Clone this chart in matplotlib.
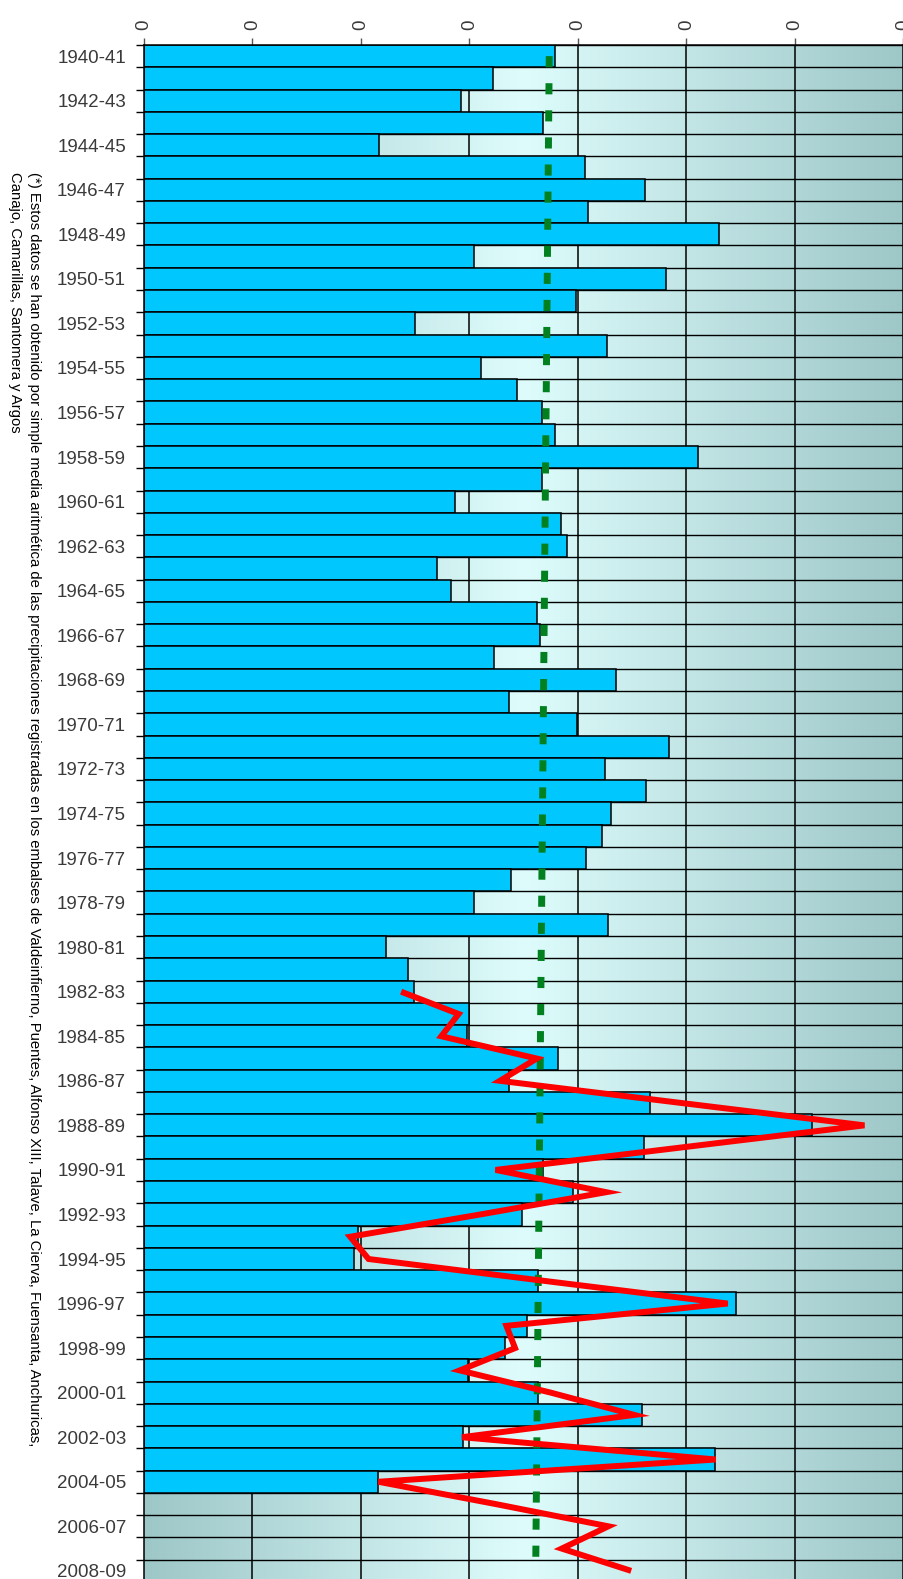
import numpy as np
import matplotlib
matplotlib.use("Agg")
import matplotlib.pyplot as plt

plt.rcParams['font.family'] = ['Liberation Sans', 'DejaVu Sans']

# ---------------- data ----------------
years = ['1940-41', '1941-42', '1942-43', '1943-44', '1944-45', '1945-46', '1946-47', '1947-48',
         '1948-49', '1949-50', '1950-51', '1951-52', '1952-53', '1953-54', '1954-55', '1955-56',
         '1956-57', '1957-58', '1958-59', '1959-60', '1960-61', '1961-62', '1962-63', '1963-64',
         '1964-65', '1965-66', '1966-67', '1967-68', '1968-69', '1969-70', '1970-71', '1971-72',
         '1972-73', '1973-74', '1974-75', '1975-76', '1976-77', '1977-78', '1978-79', '1979-80',
         '1980-81', '1981-82', '1982-83', '1983-84', '1984-85', '1985-86', '1986-87', '1987-88',
         '1988-89', '1989-90', '1990-91', '1991-92', '1992-93', '1993-94', '1994-95', '1995-96',
         '1996-97', '1997-98', '1998-99', '1999-00', '2000-01', '2001-02', '2002-03', '2003-04',
         '2004-05', '2005-06', '2006-07', '2007-08', '2008-09']

# bar series: 1940-41 .. 2004-05
bar_values = [379, 322, 292, 368, 217, 406, 462, 409, 530, 304,
              481, 398, 250, 427, 311, 344, 367, 379, 511, 367,
              287, 384, 390, 270, 283, 362, 365, 323, 435, 336,
              399, 484, 425, 463, 430, 422, 407, 338, 304, 428,
              223, 243, 249, 300, 298, 382, 336, 466, 616, 461,
              368, 395, 348, 197, 194, 363, 546, 353, 333, 299,
              363, 459, 294, 526, 216]

# red line series: 1982-83 .. 2008-09
line_years = years[42:]
line_values = [237, 290, 274, 362, 328, 496, 664, 494, 324, 426,
               310, 190, 207, 372, 538, 334, 342, 291, 375, 452,
               293, 527, 216, 324, 428, 385, 449]

# green dashed trend line (end points)
trend_years = ['1940-41', '2008-09']
trend_values = [373.5, 361.0]

x_ticks = [0, 100, 200, 300, 400, 500, 600, 700]
x_tick_labels = ['0'] * len(x_ticks)

note_line1 = ("(*) Estos datos se han obtenido por simple media aritmética de las precipitaciones "
              "registradas en los embalses de Valdeinfierno, Puentes, Alfonso XIII, Talave, "
              "La Cierva, Fuensanta, Anchuricas,")
note_line2 = "Canajo, Camarillas, Santomera y Argos"

# ---------------- figure ----------------
W, H = 904, 1579
fig = plt.figure(figsize=(W / 100, H / 100), dpi=100)
fig.patch.set_facecolor('white')

left_px, right_px, top_px, bottom_px = 144, 903.5, 45, 1582
ax = fig.add_axes([left_px / W, (H - bottom_px) / H,
                   (right_px - left_px) / W, (bottom_px - top_px) / H])

n = len(years)
ypos = {y: i for i, y in enumerate(years)}
ylim = (n - 0.5, -0.5)
xlim = (0, 700)

# gradient background (dark edges, light centre)
edge = np.array([158, 199, 200]) / 255.0
centre = np.array([222, 252, 252]) / 255.0
xs = np.linspace(0, 1, 400)
t = np.abs(xs - 0.5) / 0.5
grad = centre[None, :] * (1 - t[:, None]) + edge[None, :] * t[:, None]
ax.imshow(grad[None, :, :], extent=(xlim[0], xlim[1], ylim[0], ylim[1]),
          aspect='auto', zorder=0, interpolation='bilinear')

# vertical grid lines
for xv in x_ticks[1:-1]:
    ax.axvline(xv, color='black', lw=1.1, zorder=1)
# horizontal row lines
for i in range(n + 1):
    ax.axhline(i - 0.5, color='black', lw=1.0, zorder=1)

# bars
bar_pos = [ypos[y] for y in years[:len(bar_values)]]
ax.barh(bar_pos, bar_values, height=1.0, color='#00C8FF', edgecolor='black',
        linewidth=1.1, zorder=2)

# green trend line
ax.plot(trend_values, [ypos[y] for y in trend_years], color='#00801E', lw=5.0,
        dashes=(1.6, 2.3), dash_capstyle='butt', zorder=3)

# red line
ax.plot(line_values, [ypos[y] for y in line_years], color='#FF0000', lw=4.3,
        solid_joinstyle='miter', solid_capstyle='butt', zorder=4)

ax.set_xlim(*xlim)
ax.set_ylim(*ylim)

# x axis on top, all labels "0"
ax.xaxis.tick_top()
ax.set_xticks(x_ticks)
ax.set_xticklabels(x_tick_labels, rotation=90, fontsize=13.5, color='#3a3a3a')
ax.tick_params(axis='x', which='major', length=5, width=1, color='#555555', pad=6)

# y axis: tick marks at row boundaries, labels every other row
ax.set_yticks(np.arange(-0.5, n, 1.0))
ax.set_yticklabels([])
ax.set_yticks(np.arange(0, n, 2), minor=True)
ax.set_yticklabels(years[::2], minor=True, fontsize=13.5, color='#3a3a3a')
ax.tick_params(axis='y', which='major', length=5.5, width=1, color='black', direction='out')
ax.tick_params(axis='y', which='minor', length=0, pad=13)

for s in ax.spines.values():
    s.set_color('black')
    s.set_linewidth(1.1)

# rotated note on the left
fig.text(34 / W, 1 - 172 / H, note_line1, rotation=270, ha='center', va='top',
         fontsize=10.7, color='black')
fig.text(15 / W, 1 - 172 / H, note_line2, rotation=270, ha='center', va='top',
         fontsize=10.7, color='black')

fig.savefig('out.png', dpi=100, facecolor='white')
